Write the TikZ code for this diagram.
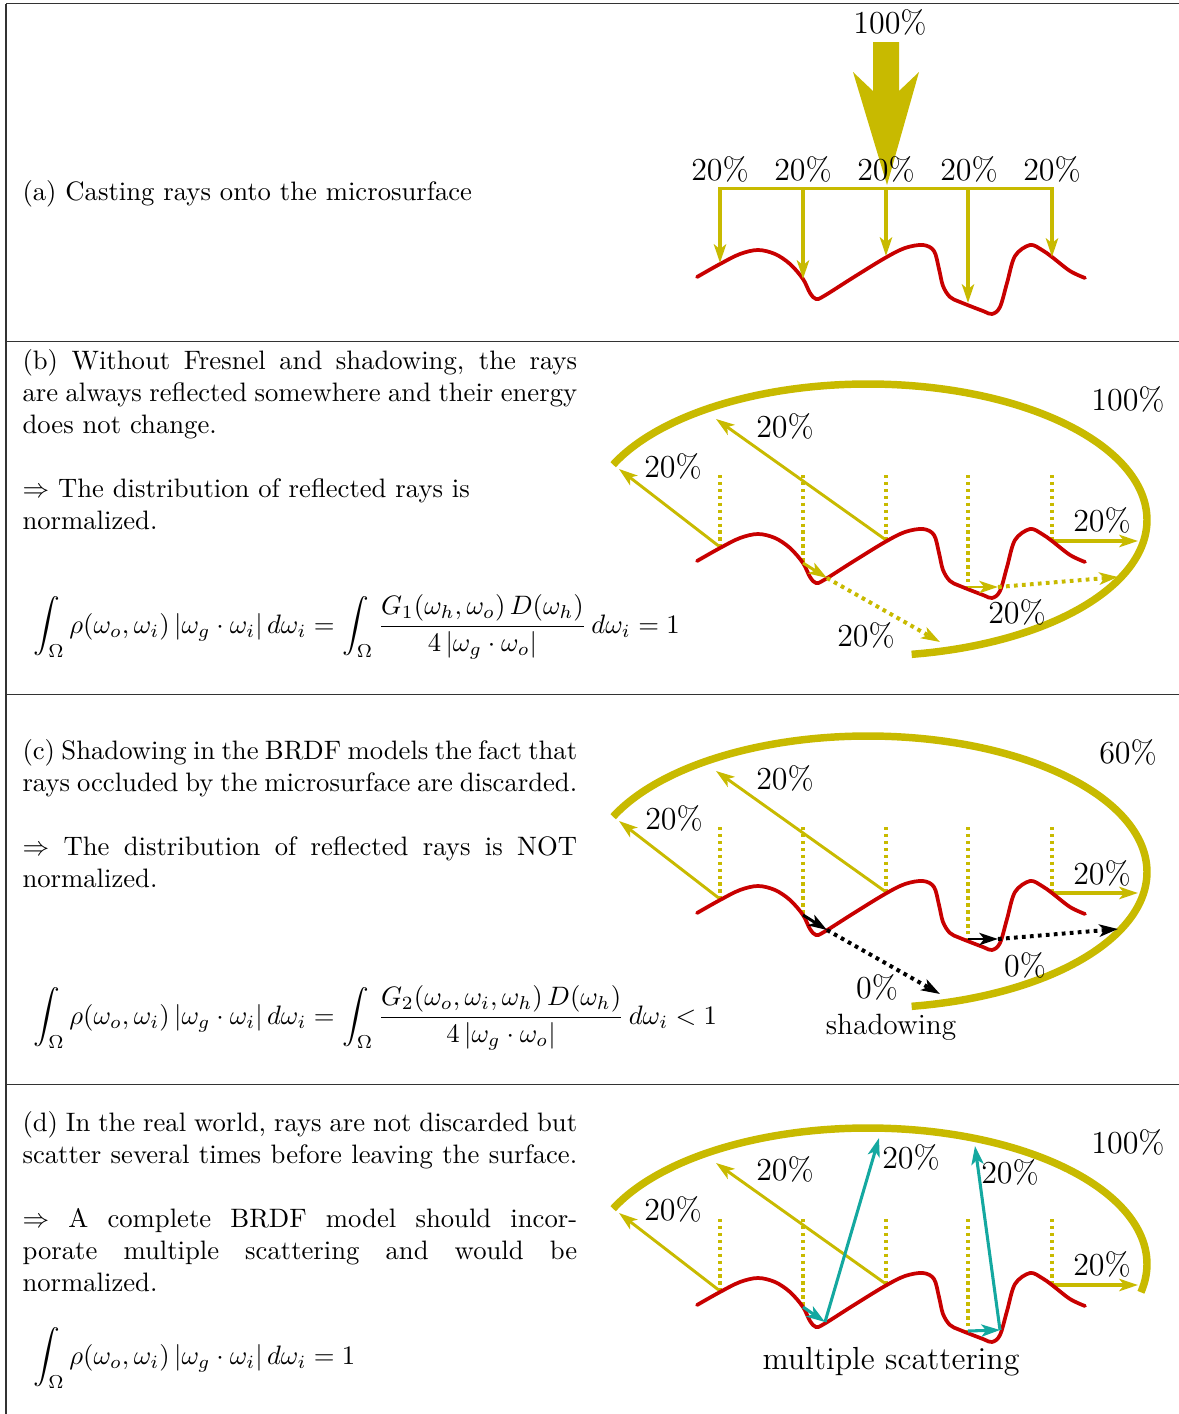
\documentclass[tikz,border=0pt]{standalone}
\usetikzlibrary{arrows.meta}
\definecolor{ocol}{RGB}{200,186,0}
\definecolor{rcol}{RGB}{200,0,0}
\definecolor{tcol}{RGB}{20,168,160}
\tikzset{
  frame/.style={line width=0.45pt,black!80},
  surf/.style={rcol,line width=1.4pt,line cap=round},
  hemi/.style={ocol,line width=2.8pt},
  ray/.style={ocol,line width=1.1pt,-{Stealth[length=7pt,width=4.6pt,inset=1.8pt]}},
  vdots/.style={ocol,line width=1.4pt,dash pattern=on 1.3pt off 1.3pt},
  ddots/.style={line width=1.5pt,dash pattern=on 1.4pt off 1.6pt},
  shad/.style={black,line width=1.1pt,-{Stealth[length=7pt,width=4.6pt,inset=1.8pt]}},
  scat/.style={tcol,line width=1.15pt,-{Stealth[length=7pt,width=4.6pt,inset=1.8pt]}},
  lbl/.style={font=\fontsize{12}{14}\selectfont,inner sep=0pt},
  txt/.style={anchor=base west,inner sep=0pt},
}
\newcommand\drawsurface{\draw[surf] plot[smooth,tension=0.55] coordinates {(697,561) (720,548) (740,538) (758,534) (775,538) (790,548) (803,563) (810,577) (816,583) (824,580) (854,561) (885,542) (905,532) (923,529) (934,535) (939,553) (943,570) (950,581) (960,586) (983,595) (992,598) (1000,591) (1007,567) (1015,540) (1030,529) (1042,534) (1052,541) (1070,555) (1085,562)};}
\newcommand\drawhemi[1]{\draw[hemi] plot[domain=156:#1,samples=100,smooth] ({868+279*cos(\x)},{520-136*sin(\x)});}
\newcommand\defpts[1]{%
  \coordinate (#1h1) at (720,547);
  \coordinate (#1h2) at (803,563);
  \coordinate (#1h3) at (886,540);
  \coordinate (#1h4) at (968,587);
  \coordinate (#1h5) at (1052,541);
  \coordinate (#1v1) at (720,475);
  \coordinate (#1v2) at (803,475);
  \coordinate (#1v3) at (886,475);
  \coordinate (#1v4) at (968,475);
  \coordinate (#1v5) at (1052,475);
  \coordinate (#1s2) at (827,578);
  \coordinate (#1s4) at (998,587);
  \coordinate (#1t1) at (619,469);
  \coordinate (#1t2) at (716,419);
  \coordinate (#1t5) at (1138,541);
  \coordinate (#1d2) at (940,642);
  \coordinate (#1d4) at (1118,577);
}
\begin{document}
\begin{tikzpicture}[x=0.375pt,y=-0.375pt]
\useasboundingbox (0,0) rectangle (1179,1414);
% frame
\draw[frame] (6,3.5) -- (1179,3.5);
\draw[frame] (6,3.5) -- (6,1414);
\draw[frame] (6,341.5) -- (1179,341.5);
\draw[frame] (6,694.5) -- (1179,694.5);
\draw[frame] (6,1084.5) -- (1179,1084.5);

% ---------------- (a)
\node[txt] (ta) at (22,200) {(a) Casting rays onto the microsurface};
\fill[ocol] (873,42) -- (899,42) -- (899,91) -- (919,72) -- (887,185) -- (853,72) -- (873,91) -- cycle;
\begin{scope}[shift={(0,-284)}]
  \defpts{a}
  \coordinate (ab1) at (720,472.5);
  \coordinate (ab2) at (803,472.5);
  \coordinate (ab3) at (886,472.5);
  \coordinate (ab4) at (968,472.5);
  \coordinate (ab5) at (1052,472.5);
  \draw[ocol,line width=1.2pt,line cap=rect] (ab1) -- (ab5);
  \drawsurface
  \foreach \i in {1,...,5} \draw[ray,line width=1.2pt] (ab\i) -- (ah\i);
\end{scope}
\node[lbl] (a100) at (890,22) {100\%};
\foreach \xx/\nm in {720/1,803/2,886/3,969/4,1052/5}
  \node[lbl] (ap\nm) at (\xx,169) {20\%};

% ---------------- (b)
\node[txt] (tb1) at (22,369) {\makebox[208pt][s]{(b) Without Fresnel and shadowing, the rays}};
\node[txt] (tb2) at (22,401) {\makebox[208pt][s]{are always reflected somewhere and their energy}};
\node[txt] (tb3) at (22,433) {does not change.};
\node[txt] (tb4) at (22,497) {$\Rightarrow$ The distribution of reflected rays is};
\node[txt] (tb5) at (22,529) {normalized.};
\node[txt] (fb) at (33,633) {$\displaystyle \int_\Omega \rho(\omega_o,\omega_i)\,|\omega_g\cdot\omega_i|\,d\omega_i = \int_\Omega \frac{G_1(\omega_h,\omega_o)\,D(\omega_h)}{4\,|\omega_g\cdot\omega_o|}\,d\omega_i = 1$};
\begin{scope}
  \defpts{b}
  \drawhemi{-81}
  \foreach \i in {1,...,5} \draw[vdots] (bv\i) -- (bh\i);
  \draw[ray] (bh1) -- (bt1);
  \draw[ray] (bh3) -- (bt2);
  \draw[ray,line width=1.4pt] (bh5) -- (bt5);
  \drawsurface
  \draw[ray] (bh2) -- (bs2);
  \draw[ray,ddots] (bs2) -- (bd2);
  \draw[ray] (bh4) -- (bs4);
  \draw[ray,ddots] (bs4) -- (bd4);
\end{scope}
\node[lbl] (b100) at (1128,399) {100\%};
\node[lbl] (bp1) at (673,466) {20\%};
\node[lbl] (bp2) at (785,426) {20\%};
\node[lbl] (bp3) at (1102,520) {20\%};
\node[lbl] (bp4) at (1017,612) {20\%};
\node[lbl] (bp5) at (866,635) {20\%};

% ---------------- (c)
\node[txt] (tc1) at (22,759) {\makebox[208pt][s]{(c) Shadowing in the BRDF models the fact that}};
\node[txt] (tc2) at (22,791) {\makebox[208pt][s]{rays occluded by the microsurface are discarded.}};
\node[txt] (tc3) at (22,855) {\makebox[208pt][s]{$\Rightarrow$ The distribution of reflected rays is NOT}};
\node[txt] (tc4) at (22,887) {normalized.};
\node[txt] (fc) at (33,1024) {$\displaystyle \int_\Omega \rho(\omega_o,\omega_i)\,|\omega_g\cdot\omega_i|\,d\omega_i = \int_\Omega \frac{G_2(\omega_o,\omega_i,\omega_h)\,D(\omega_h)}{4\,|\omega_g\cdot\omega_o|}\,d\omega_i < 1$};
\begin{scope}[shift={(0,352)}]
  \defpts{c}
  \drawhemi{-81}
  \foreach \i in {1,...,5} \draw[vdots] (cv\i) -- (ch\i);
  \draw[ray] (ch1) -- (ct1);
  \draw[ray] (ch3) -- (ct2);
  \draw[ray,line width=1.4pt] (ch5) -- (ct5);
  \drawsurface
  \draw[shad] (ch2) -- (cs2);
  \draw[shad,ddots] (cs2) -- (cd2);
  \draw[shad] (ch4) -- (cs4);
  \draw[shad,ddots] (cs4) -- (cd4);
\end{scope}
\node[lbl] (c60) at (1128,752) {60\%};
\node[lbl] (cp1) at (674,818) {20\%};
\node[lbl] (cp2) at (785,778) {20\%};
\node[lbl] (cp3) at (1102,873) {20\%};
\node[lbl] (cz1) at (1025,965) {0\%};
\node[lbl] (cz2) at (877,987) {0\%};
\node[inner sep=0pt,font=\fontsize{11}{13}\selectfont] (csh) at (891,1027) {shadowing};

% ---------------- (d)
\node[txt] (td1) at (22,1131) {\makebox[208pt][s]{(d) In the real world, rays are not discarded but}};
\node[txt] (td2) at (22,1163) {\makebox[208pt][s]{scatter several times before leaving the surface.}};
\node[txt] (td3) at (22,1227) {\makebox[208pt][s]{$\Rightarrow$ A complete BRDF model should incor-}};
\node[txt] (td4) at (22,1259) {\makebox[208pt][s]{porate multiple scattering and would be}};
\node[txt] (td5) at (22,1291) {normalized.};
\node[txt] (fd) at (33,1364) {$\displaystyle \int_\Omega \rho(\omega_o,\omega_i)\,|\omega_g\cdot\omega_i|\,d\omega_i = 1$};
\begin{scope}[shift={(0,744)}]
  \defpts{d}
  \coordinate (dm2) at (825,578);
  \coordinate (dm4) at (1000,586);
  \coordinate (du2) at (879,394);
  \coordinate (du4) at (975,402);
  \drawhemi{-12}
  \foreach \i in {1,...,5} \draw[vdots] (dv\i) -- (dh\i);
  \draw[ray] (dh1) -- (dt1);
  \draw[ray] (dh3) -- (dt2);
  \draw[ray,line width=1.4pt] (dh5) -- (dt5);
  \drawsurface
  \draw[scat] (dh2) -- (dm2);
  \draw[scat] (dm2) -- (du2);
  \draw[scat] (dh4) -- (dm4);
  \draw[scat] (dm4) -- (du4);
\end{scope}
\node[lbl] (d100) at (1128,1142) {100\%};
\node[lbl] (dp1) at (673,1209) {20\%};
\node[lbl] (dp2) at (785,1169) {20\%};
\node[lbl] (dp3) at (911,1157) {20\%};
\node[lbl] (dp4) at (1010,1172) {20\%};
\node[lbl] (dp5) at (1102,1264) {20\%};
\node[inner sep=0pt,font=\fontsize{12}{14}\selectfont] (dms) at (891,1362) {multiple scattering};
\end{tikzpicture}
\end{document}
